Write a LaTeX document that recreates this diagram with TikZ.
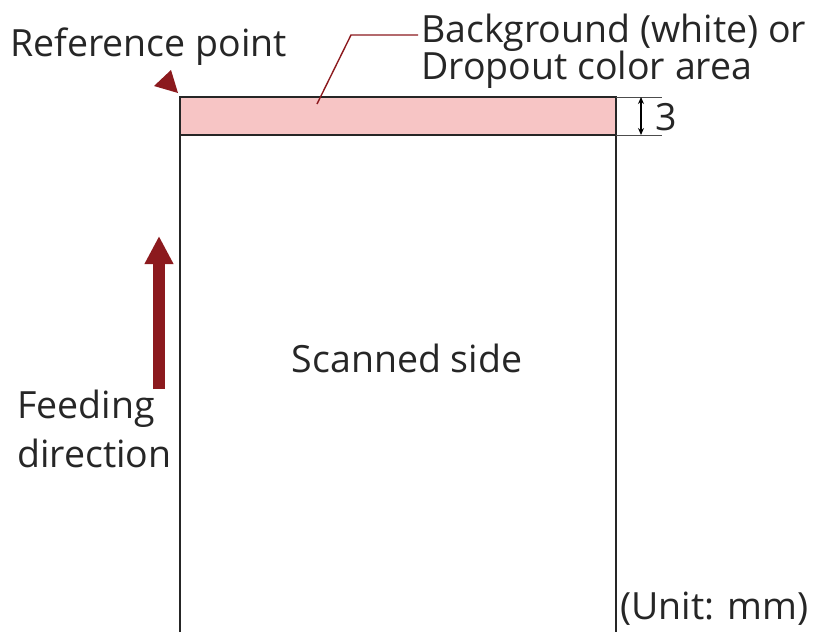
\documentclass[tikz,border=0pt]{standalone}
\usepackage{fontspec}
\setmainfont{Open Sans}
\usetikzlibrary{arrows.meta}
\definecolor{dred}{HTML}{8C1A1E}
\definecolor{pinkband}{HTML}{F7C5C5}
\tikzset{
  lbl/.style={inner sep=0pt, font=\fontsize{37.5}{38}\selectfont, text=black!85},
  frame/.style={draw=black!85, line width=1.6pt},
  dimline/.style={draw=black!70, line width=1pt},
}
\begin{document}
\begin{tikzpicture}[x=1pt,y=-1pt]
\useasboundingbox (0,0) rectangle (819,632);
% band
\fill[pinkband] (180,97) rectangle (616,135);
\draw[frame] (180,632) -- (180,97) -- (616,97) -- (616,632);
\draw[frame] (180,135) -- (616,135);
% dimension
\coordinate (e1) at (662,97);
\coordinate (e2) at (662,135);
\draw[dimline] (616,97) -- (e1);
\draw[dimline] (616,135) -- (e2);
\coordinate (d1) at (641,97);
\coordinate (d2) at (641,135);
\draw[line width=1.2pt, {Stealth[length=7pt,width=6pt]}-{Stealth[length=7pt,width=6pt]}] (d1) -- (d2);
\node[lbl, anchor=west] (three) at (655,117) {3};
% reference point
\fill[dred] (178,93) -- (154,86) -- (171,70) -- cycle;
\node[lbl, anchor=west] (ref) at (10,47) {Reference point};
% leader
\coordinate (lp) at (317,104);
\coordinate (lk) at (351,35);
\coordinate (le) at (418,35);
\draw[dred, line width=1.4pt] (lp) -- (lk) -- (le);
\node[lbl, anchor=west] (bg1) at (421,33) {Background (white) or};
\node[lbl, anchor=west] (bg2) at (421,70) {Dropout color area};
% feeding arrow
\coordinate (fa1) at (159,389);
\coordinate (fa2) at (159,236);
\draw[dred, line width=12pt, -{Triangle[length=28pt,width=27pt]}] (fa1) -- (fa2);
\node[lbl, anchor=west] (fd1) at (17,409) {Feeding};
\node[lbl, anchor=west] (fd2) at (17,453) {direction};
\node[lbl] (scan) at (407,358) {Scanned side};
\node[lbl, anchor=west] (unit) at (620,609) {(Unit: mm)};
\end{tikzpicture}
\end{document}
